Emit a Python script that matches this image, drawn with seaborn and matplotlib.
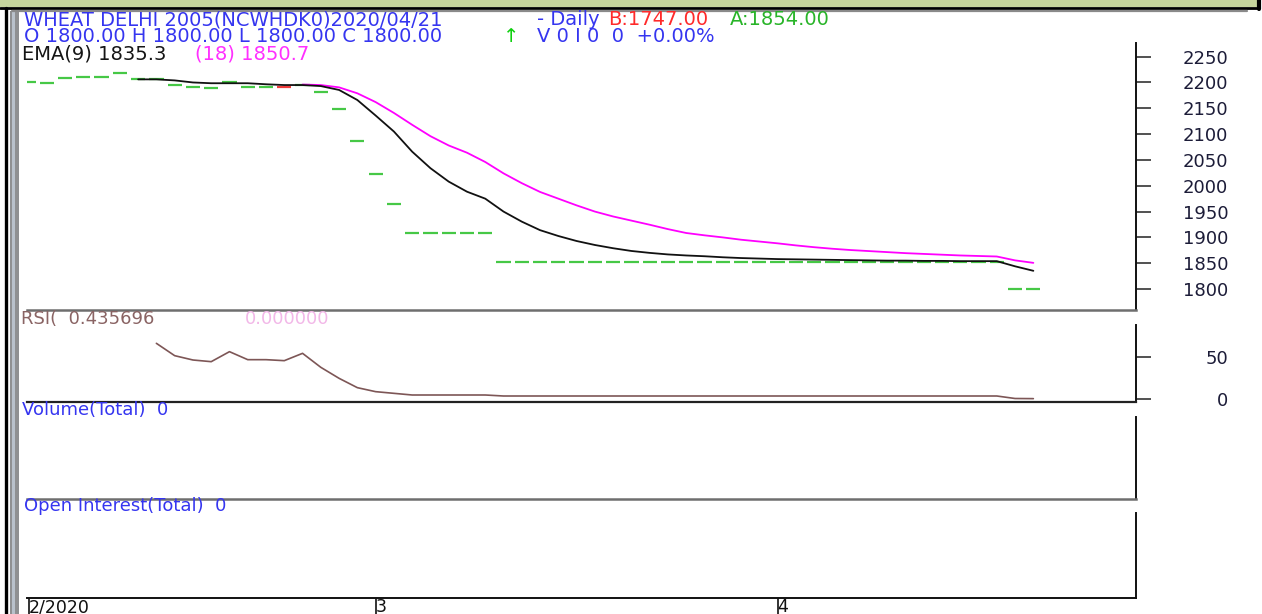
import numpy as np
import pandas as pd
import matplotlib
matplotlib.use("Agg")
import matplotlib.pyplot as plt
import seaborn as sns
from matplotlib.patches import Rectangle
from matplotlib.lines import Line2D

sns.set_style("white")
plt.rcParams["font.family"] = ["DejaVu Sans"]

# ---------------- data ----------------
# daily price (open = high = low = close, drawn as a short dash)
price = [2200, 2198, 2208, 2211, 2211, 2218, 2206, 2206, 2195, 2191,
         2189, 2200, 2191, 2191, 2191, 2196, 2181, 2149, 2087, 2023,
         1965, 1909, 1909, 1909, 1909, 1909, 1853, 1853, 1853, 1853,
         1853, 1853, 1853, 1853, 1853, 1853, 1853, 1853, 1853, 1853,
         1853, 1853, 1853, 1853, 1853, 1853, 1853, 1853, 1853, 1853,
         1853, 1853, 1853, 1853, 1800, 1800]
bar_kind = ["up"] * 14 + ["down"] + ["up"] * 41

ema9_start = 6
ema9 = [2206, 2206, 2204, 2200, 2198.5, 2198.5, 2198.5, 2196.5, 2195, 2195, 2193, 2185.5,
        2166, 2136, 2105, 2066, 2034, 2008, 1988.5, 1975, 1950, 1930.5, 1914, 1902.7,
        1893, 1885.3, 1879, 1873.7, 1870, 1867, 1865, 1863.5, 1861.5, 1860, 1859, 1858,
        1857.5, 1857, 1856.5, 1856, 1855.5, 1855, 1855, 1854.5, 1854.5, 1854, 1854, 1854,
        1844, 1835.3]

ema18_start = 15
ema18 = [2196, 2195, 2190.5, 2179, 2162, 2141, 2118, 2096, 2078, 2064, 2046, 2024,
         2005, 1988, 1975, 1962, 1950, 1940.5, 1932.5, 1924.5, 1916, 1908.5, 1904, 1900,
         1895.5, 1892, 1888.5, 1884.5, 1881, 1878, 1875.5, 1873.5, 1871.5, 1869.5, 1868,
         1866.5, 1865, 1864, 1863, 1855.5, 1850.7]

rsi_start = 7
rsi = [66.8, 52, 46.8, 44.8, 56.8, 47.2, 47.2, 46, 54.8, 38, 24.8, 13.6, 8.8, 6.8,
       4.8, 4.8, 4.8, 4.8, 4.8,
       3.6, 3.6, 3.6, 3.6, 3.6, 3.6, 3.6, 3.6, 3.6, 3.6, 3.6, 3.6, 3.6, 3.6,
       3.6, 3.6, 3.6, 3.6, 3.6, 3.6, 3.6, 3.6, 3.6, 3.6, 3.6, 3.6, 3.6, 3.6,
       0.6, 0.44]

month_pos = [0, 19, 41]
month_labels = ["2/2020", "3", "4"]
price_ticks = [1800, 1850, 1900, 1950, 2000, 2050, 2100, 2150, 2200, 2250]
rsi_ticks = [0, 50]

# ---------------- frames ----------------
idx = np.arange(len(price))
df_price = pd.DataFrame({"i": idx, "price": price, "kind": bar_kind})
df_e9 = pd.DataFrame({"i": np.arange(ema9_start, ema9_start + len(ema9)), "v": ema9})
df_e18 = pd.DataFrame({"i": np.arange(ema18_start, ema18_start + len(ema18)), "v": ema18})
df_rsi = pd.DataFrame({"i": np.arange(rsi_start, rsi_start + len(rsi)), "v": rsi})

W, H = 1262, 614
fig = plt.figure(figsize=(W / 100, H / 100), dpi=100)
fig.patch.set_facecolor("white")


def rect(x0, y0, x1, y1):
    return [x0 / W, 1 - y1 / H, (x1 - x0) / W, (y1 - y0) / H]


def fx(x):
    return x / W


def fy(y):
    return 1 - y / H


X0, X1 = 27, 1136
XLIM = ((X0 - 28.5) / 18.27, (X1 - 28.5) / 18.27)

ax_main = fig.add_axes(rect(X0, 42.7, X1, 310))
ax_rsi = fig.add_axes(rect(X0, 325, X1, 401.7))
ax_vol = fig.add_axes(rect(X0, 417, X1, 499))
ax_oi = fig.add_axes(rect(X0, 513, X1, 597.5))

tick_col = "#1c1c38"
for ax in (ax_main, ax_rsi, ax_vol, ax_oi):
    ax.set_facecolor("white")
    ax.set_xlim(*XLIM)
    for s in ("top", "left"):
        ax.spines[s].set_visible(False)
    ax.spines["right"].set_color("#111111")
    ax.spines["right"].set_linewidth(1.4)
    ax.spines["bottom"].set_color("#6e6e6e")
    ax.spines["bottom"].set_linewidth(1.8)
    ax.set_xticks([])
    ax.set_xlabel("")
    ax.set_ylabel("")
    ax.grid(False)

# ---------------- main price panel ----------------
up_col, dn_col = "#46c846", "#ee3b3b"
cols = [up_col if k == "up" else dn_col for k in df_price["kind"]]
ax_main.hlines(df_price["price"], df_price["i"] - 0.39, df_price["i"] + 0.39,
               colors=cols, linewidth=1.6)
sns.lineplot(data=df_e18, x="i", y="v", ax=ax_main, color="#ff00ff", linewidth=1.3,
             estimator=None, sort=False)
sns.lineplot(data=df_e9, x="i", y="v", ax=ax_main, color="#111111", linewidth=1.3,
             estimator=None, sort=False)
ax_main.set_ylim(1759.4, 2277)
ax_main.set_xlim(*XLIM)
ax_main.set_xlabel("")
ax_main.set_ylabel("")

for ax, ticks in ((ax_main, price_ticks), (ax_rsi, rsi_ticks)):
    ax.yaxis.tick_right()
    ax.set_yticks(ticks)
    ax.set_yticklabels([str(t) for t in ticks])
    ax.tick_params(axis="y", which="both", right=True, left=False, direction="out",
                   length=10.5, width=1.2, color="#333333", pad=56,
                   labelsize=13, labelcolor=tick_col)
    for lab in ax.get_yticklabels():
        lab.set_horizontalalignment("right")

# ---------------- RSI panel ----------------
sns.lineplot(data=df_rsi, x="i", y="v", ax=ax_rsi, color="#7d5656", linewidth=1.2,
             estimator=None, sort=False)
ax_rsi.set_ylim(-3.24, 88.8)
ax_rsi.set_xlim(*XLIM)
ax_rsi.set_xlabel("")
ax_rsi.set_ylabel("")
ax_rsi.spines["bottom"].set_color("#222222")
ax_rsi.spines["bottom"].set_linewidth(1.6)

# ---------------- volume / OI panels ----------------
for ax in (ax_vol, ax_oi):
    ax.set_yticks([])
    ax.set_ylim(0, 1)

ax_oi.spines["bottom"].set_color("#111111")
ax_oi.spines["bottom"].set_linewidth(1.4)
ax_oi.set_xticks(month_pos)
ax_oi.set_xticklabels(month_labels)
ax_oi.tick_params(axis="x", bottom=True, direction="out", length=13, width=1.2,
                  color="#111111", pad=-12.6, labelsize=12.5, labelcolor="#111111")
for lab in ax_oi.get_xticklabels():
    lab.set_horizontalalignment("left")

# ---------------- window frame ----------------
fig.patches.append(Rectangle((0, fy(7)), fx(1257), 7 / H, transform=fig.transFigure,
                             facecolor="#c6d59d", edgecolor="none", zorder=0))
fig.lines.append(Line2D([0, fx(1258)], [fy(7.8), fy(7.8)], transform=fig.transFigure,
                        color="black", linewidth=2))
fig.lines.append(Line2D([fx(1259), fx(1259)], [fy(0), fy(8.5)], transform=fig.transFigure,
                        color="black", linewidth=3))
fig.lines.append(Line2D([fx(12), fx(1247)], [fy(11), fy(11)], transform=fig.transFigure,
                        color="#8a8a8a", linewidth=1.6))
fig.lines.append(Line2D([fx(5.5), fx(5.5)], [fy(8), fy(614)], transform=fig.transFigure,
                        color="black", linewidth=2.4))
fig.patches.append(Rectangle((fx(10), 0), 9 / W, fy(11), transform=fig.transFigure,
                             facecolor="#8f9092", edgecolor="none"))
fig.patches.append(Rectangle((fx(12), 0), 3 / W, fy(11), transform=fig.transFigure,
                             facecolor="#b9c1cb", edgecolor="none"))

# ---------------- header texts ----------------
blue = "#3535f0"


def t(x, y, s, c, size=14):
    fig.text(fx(x), fy(y), s, color=c, fontsize=size, va="center", ha="left")


t(24, 19.5, "WHEAT DELHI 2005(NCWHDK0)2020/04/21", blue)
t(537, 19.5, "- Daily", blue)
t(608, 19.5, "B:1747.00", "#ff2a2a")
t(730, 19.5, "A:1854.00", "#28b428")
t(24, 36.5, "O 1800.00 H 1800.00 L 1800.00 C 1800.00", blue)
t(503, 36.5, "\u2191", "#10d010")
t(537, 36.5, "V 0 I 0  0  +0.00%", blue)
t(22, 54, "EMA(9) 1835.3", "#151515")
t(195, 54, "(18) 1850.7", "#ff30ff")

t(21, 318.5, "RSI(  0.435696", "#8a6464", 13)
t(245, 318.5, "0.000000", "#f2b8e8", 13)
t(22, 410, "Volume(Total)  0", blue, 13)
t(24, 506, "Open Interest(Total)  0", blue, 13)

fig.savefig("out.png", dpi=100, facecolor="white")
